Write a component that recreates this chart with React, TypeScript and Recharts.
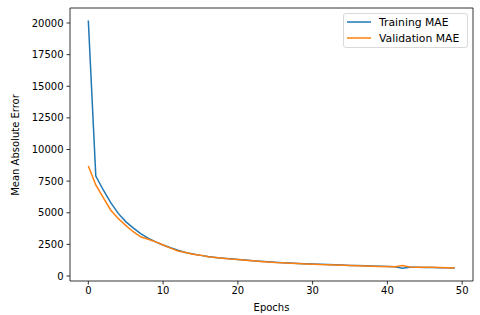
import { LineChart, Line, XAxis, YAxis, ReferenceArea, Label } from 'recharts';

// MAE per epoch
const epochs = Array.from({ length: 50 }, (_, i) => i);
const trainingMae = [
  20200, 7900, 6800, 5800, 4950, 4300, 3800, 3350, 3000, 2700,
  2450, 2230, 2030, 1860, 1740, 1630, 1540, 1470, 1410, 1360,
  1310, 1260, 1210, 1160, 1120, 1080, 1050, 1020, 990, 960,
  940, 920, 900, 880, 860, 840, 830, 810, 790, 770,
  760, 730, 620, 700, 690, 680, 670, 660, 650, 640,
];
const validationMae = [
  8700, 7200, 6200, 5200, 4550, 4000, 3500, 3100, 2900, 2700,
  2450, 2200, 1980, 1850, 1720, 1650, 1530, 1470, 1400, 1340,
  1300, 1250, 1200, 1150, 1110, 1060, 1040, 1010, 980, 950,
  930, 900, 890, 870, 850, 830, 820, 800, 780, 760,
  750, 740, 820, 710, 700, 690, 700, 670, 650, 640,
];
const xTicks = [0, 10, 20, 30, 40, 50];
const yTicks = [0, 2500, 5000, 7500, 10000, 12500, 15000, 17500, 20000];

const data = epochs.map((e, i) => ({ epoch: e, train: trainingMae[i], val: validationMae[i] }));

const FONT = '"DejaVu Sans", sans-serif';
const X_DOMAIN: [number, number] = [-2.45, 51.45];
const Y_DOMAIN: [number, number] = [-395, 21186];

const series = [
  { key: 'train', name: 'Training MAE', color: '#1f77b4' },
  { key: 'val', name: 'Validation MAE', color: '#ff7f0e' },
];

// matplotlib-style legend box, placed over the upper right of the plot
function LegendBox() {
  return (
    <div
      style={{
        position: 'absolute',
        top: 13,
        left: 343,
        width: 125,
        height: 35,
        boxSizing: 'border-box',
        border: '1px solid #d9d9d9',
        borderRadius: 3,
        background: 'rgba(255,255,255,0.8)',
        padding: '0 0 0 3px',
        fontFamily: FONT,
        fontSize: 10.8,
        color: '#000',
      }}
    >
      {series.map((s) => (
        <div key={s.key} style={{ display: 'flex', alignItems: 'center', height: 16 }}>
          <svg width={24} height={4} style={{ marginRight: 8 }}>
            <line x1={0} y1={2} x2={24} y2={2} stroke={s.color} strokeWidth={1.5} />
          </svg>
          <span>{s.name}</span>
        </div>
      ))}
    </div>
  );
}

export default function App() {
  const tickStyle = { fontFamily: FONT, fontSize: 10, fill: '#000' };
  return (
    <div style={{ position: 'absolute', left: 0, top: 0, width: 480, height: 315, background: '#fff' }}>
      <LineChart width={480} height={315} data={data} margin={{ top: 8, right: 7, left: 0, bottom: 0 }}>
        <XAxis
          dataKey="epoch"
          type="number"
          domain={X_DOMAIN}
          ticks={xTicks}
          allowDataOverflow
          height={34}
          tick={tickStyle}
          tickSize={3.5}
          tickMargin={2}
          axisLine={false}
          tickLine={{ stroke: '#000', strokeWidth: 0.8 }}
        >
          <Label
            content={() => (
              <text x={271.5} y={307} textAnchor="middle" dominantBaseline="central" style={{ fontFamily: FONT, fontSize: 10 }} fill="#000">
                Epochs
              </text>
            )}
          />
        </XAxis>
        <YAxis
          type="number"
          domain={Y_DOMAIN}
          ticks={yTicks}
          allowDataOverflow
          width={70}
          tick={tickStyle}
          tickSize={3.5}
          tickMargin={3}
          axisLine={false}
          tickLine={{ stroke: '#000', strokeWidth: 0.8 }}
        >
          <Label
            content={() => (
              <text
                x={15}
                y={145}
                transform="rotate(-90 15 145)"
                textAnchor="middle"
                dominantBaseline="central"
                style={{ fontFamily: FONT, fontSize: 10 }}
                fill="#000"
              >
                Mean Absolute Error
              </text>
            )}
          />
        </YAxis>
        <ReferenceArea
          x1={X_DOMAIN[0]}
          x2={X_DOMAIN[1]}
          y1={Y_DOMAIN[0]}
          y2={Y_DOMAIN[1]}
          fill="none"
          stroke="#000"
          strokeWidth={0.8}
          ifOverflow="visible"
        />
        {series.map((s) => (
          <Line
            key={s.key}
            dataKey={s.key}
            name={s.name}
            stroke={s.color}
            strokeWidth={1.5}
            dot={false}
            type="linear"
            isAnimationActive={false}
          />
        ))}
      </LineChart>
      <LegendBox />
    </div>
  );
}
